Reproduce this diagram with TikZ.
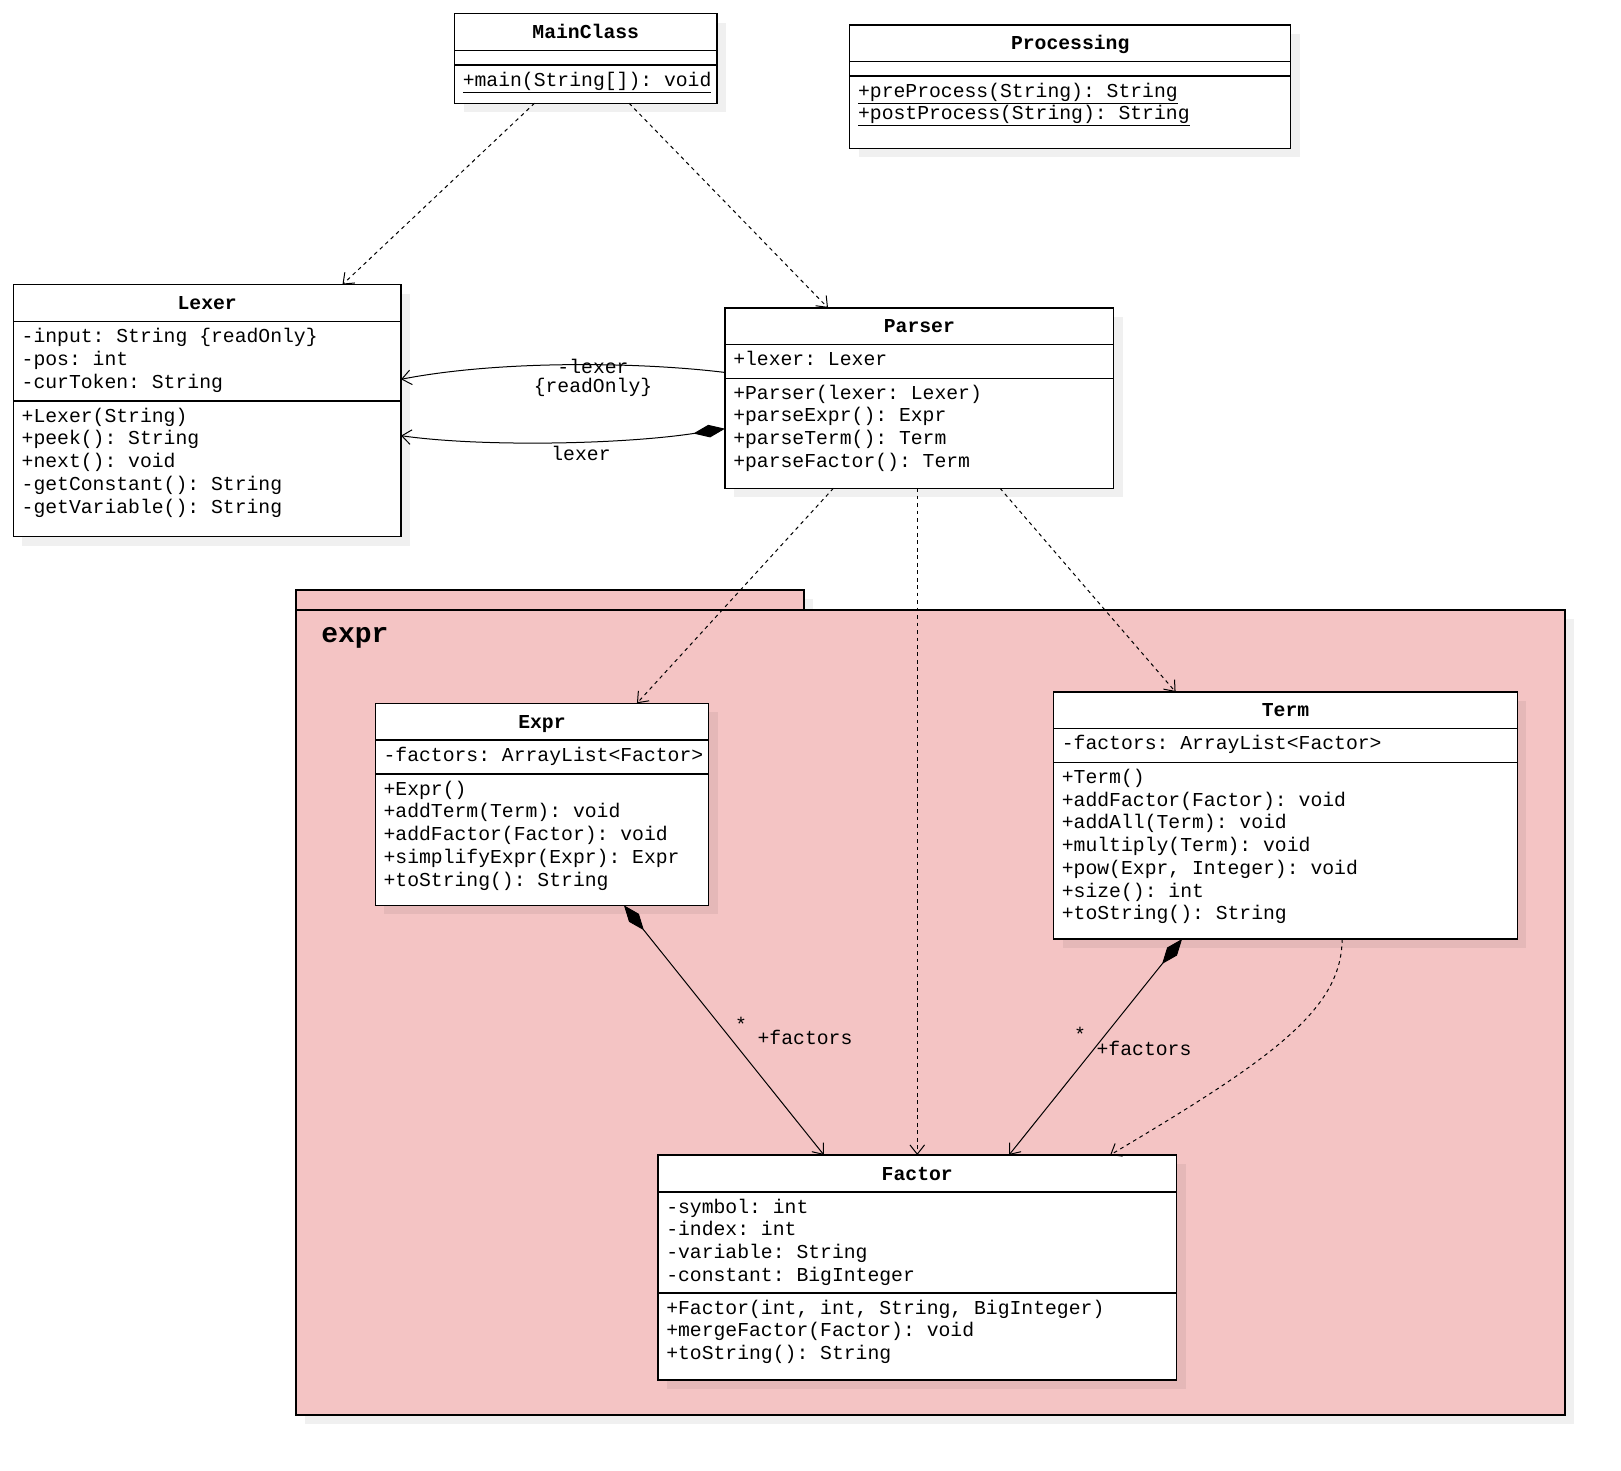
\documentclass[tikz,border=0pt]{standalone}
\usepackage{fontspec}
\newfontfamily\umlfont{Liberation Mono}
\usetikzlibrary{arrows.meta,shadows,calc}
\definecolor{pkgfill}{HTML}{F4C4C4}
\frenchspacing
\tikzset{
  shade9/.style={drop shadow={shadow xshift=6.75pt, shadow yshift=-6.75pt, fill=black, opacity=0.06}},
  classbox/.style={rectangle, draw=black, line width=0.9pt, fill=white, inner sep=0pt, outer sep=0pt, anchor=north west, shade9},
  pkgbox/.style={rectangle, draw=black, line width=0.9pt, fill=pkgfill, inner sep=0pt, outer sep=0pt, anchor=north west, shade9},
  boxline/.style={line width=0.9pt},
  rowtext/.style={anchor=base west, inner sep=0pt, font=\umlfont\frenchspacing\fontsize{14.8pt}{17pt}\selectfont},
  titletext/.style={anchor=base, inner sep=0pt, font=\umlfont\bfseries\fontsize{14.8pt}{17pt}\selectfont},
  lbl/.style={inner sep=0pt, align=center, font=\umlfont\frenchspacing\fontsize{14.8pt}{14.5pt}\selectfont},
  openhead/.tip={Straight Barb[length=7pt,width=11pt]},
  dep/.style={draw, line width=0.75pt, dash pattern=on 2.8pt off 2.8pt, -openhead},
  assoc/.style={draw, line width=0.75pt, -openhead},
  comp/.style={draw, line width=0.75pt, {Diamond[length=24pt,width=9.5pt]}-openhead},
}
\newcommand\classbox[8]{% name, title, x1, y1, x2, y2, header line, separator
  \node[classbox, minimum width={(#5-#3)*0.75pt}, minimum height={(#6-#4)*0.75pt}] (#1) at (#3,#4) {};
  \draw[boxline] (#3,#7) -- (#5,#7);
  \draw[boxline] (#3,#8) -- (#5,#8);
  \node[titletext] (#1-title) at ({(#3+#5)/2}, {(#4+#7)/2+6.5}) {#2};
}
\newcommand\umlrows[4]{% name, x, divider y, list
  \foreach \t [count=\i from 0] in {#4}{%
    \node[rowtext] (#1-\i) at ({#2+8}, {#3+21+22.75*\i}) {\t};
  }%
}
\begin{document}
\begin{tikzpicture}[x=0.75pt, y=-0.75pt]
\useasboundingbox (0,0) rectangle (1621,1471);

% package expr
\node[pkgbox, minimum width={508*0.75pt}, minimum height={20*0.75pt}] (pkgtab) at (296,590) {};
\node[pkgbox, minimum width={1269*0.75pt}, minimum height={805*0.75pt}] (pkg) at (296,610) {};
\node[anchor=base west, inner sep=0pt, font=\umlfont\bfseries\fontsize{21pt}{25pt}\selectfont] (pkg-label) at (321,642) {expr};

% classes
\classbox{mainclass}{MainClass}{454.5}{13.6}{717}{103.2}{50.7}{65}
\umlrows{mainclass-m}{454.5}{65}{{\underline{+main(String[]): void}}}

\classbox{processing}{Processing}{849.8}{25}{1290.6}{148.2}{61.8}{76}
\umlrows{processing-m}{849.8}{76}{{\underline{+preProcess(String): String}},{\underline{+postProcess(String): String}}}

\classbox{lexer}{Lexer}{13.4}{284.6}{401}{536.8}{321.8}{401}
\umlrows{lexer-a}{13.4}{321.8}{{-input: String \{readOnly\}},{-pos: int},{-curToken: String}}
\umlrows{lexer-m}{13.4}{401}{{+Lexer(String)},{+peek(): String},{+next(): void},{-getConstant(): String},{-getVariable(): String}}

\classbox{parser}{Parser}{725}{307.9}{1113.7}{488.2}{344.6}{378.2}
\umlrows{parser-a}{725}{344.6}{{+lexer: Lexer}}
\umlrows{parser-m}{725}{378.2}{{+Parser(lexer: Lexer)},{+parseExpr(): Expr},{+parseTerm(): Term},{+parseFactor(): Term}}

\classbox{expr}{Expr}{375.3}{703.3}{708.6}{905.3}{740}{774}
\umlrows{expr-a}{375.3}{740}{{-factors: ArrayList<Factor>}}
\umlrows{expr-m}{375.3}{774}{{+Expr()},{+addTerm(Term): void},{+addFactor(Factor): void},{+simplifyExpr(Expr): Expr},{+toString(): String}}

\classbox{term}{Term}{1053.6}{692}{1517.4}{939}{728.7}{762.3}
\umlrows{term-a}{1053.6}{728.7}{{-factors: ArrayList<Factor>}}
\umlrows{term-m}{1053.6}{762.3}{{+Term()},{+addFactor(Factor): void},{+addAll(Term): void},{+multiply(Term): void},{+pow(Expr, Integer): void},{+size(): int},{+toString(): String}}

\classbox{factor}{Factor}{658}{1155}{1176.5}{1380}{1192}{1293}
\umlrows{factor-a}{658}{1192}{{-symbol: int},{-index: int},{-variable: String},{-constant: BigInteger}}
\umlrows{factor-m}{658}{1293}{{+Factor(int, int, String, BigInteger)},{+mergeFactor(Factor): void},{+toString(): String}}

% connectors
\draw[dep] ($(mainclass.south west)!0.305!(mainclass.south east)$) -- ($(lexer.north west)!0.849!(lexer.north east)$);
\draw[dep] ($(mainclass.south west)!0.665!(mainclass.south east)$) -- ($(parser.north west)!0.265!(parser.north east)$);

\draw[assoc] ($(parser.north west)!0.358!(parser.south west)$) .. controls +(-85,-10.5) and +(99,-19.3) .. ($(lexer.north east)!0.3755!(lexer.south east)$);
\draw[comp] ($(parser.north west)!0.67!(parser.south west)$) .. controls +(-105,16) and +(79,11.3) .. ($(lexer.north east)!0.599!(lexer.south east)$);

\draw[dep] ($(parser.south west)!0.279!(parser.south east)$) -- ($(expr.north west)!0.785!(expr.north east)$);
\draw[dep] (factor.north |- parser.south) -- (factor.north);
\draw[dep] ($(parser.south west)!0.7075!(parser.south east)$) -- ($(term.north west)!0.263!(term.north east)$);

\draw[comp] ($(expr.south west)!0.746!(expr.south east)$) -- ($(factor.north west)!0.32!(factor.north east)$);
\draw[comp] ($(term.south west)!0.277!(term.south east)$) -- ($(factor.north west)!0.677!(factor.north east)$);
\draw[dep] ($(term.south west)!0.622!(term.south east)$) .. controls +(0,71) and +(160,-95) .. ($(factor.north west)!0.872!(factor.north east)$);

% labels
\node[lbl] (lbl-assoc) at (593,378) {-lexer\\\{readOnly\}};
\node[lbl] (lbl-comp) at (581,453.3) {lexer};
\node[lbl] (mult-expr) at (741,1024) {*};
\node[lbl] (role-expr) at (805,1037) {+factors};
\node[lbl] (mult-term) at (1080,1034) {*};
\node[lbl] (role-term) at (1144,1048) {+factors};
\end{tikzpicture}
\end{document}
